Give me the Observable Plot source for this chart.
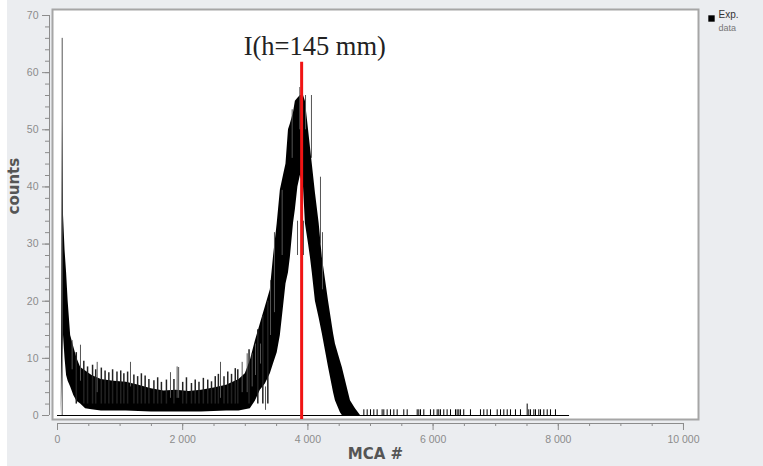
<!DOCTYPE html>
<html><head><meta charset="utf-8">
<script src="https://cdn.jsdelivr.net/npm/d3@7"></script>
<script src="https://cdn.jsdelivr.net/npm/@observablehq/plot@0.6"></script>
<style>
html,body{margin:0;padding:0;background:#fff;}
#chart{width:763px;height:466px;background:linear-gradient(to right,#ffffff 0,#ffffff 7px,#ebedf0 7px,#ebedf0 100%);overflow:hidden;}
#chart svg{display:block;}
</style></head><body><div id="chart"></div>
<script>
// Spectrum envelope: MCA channel, lower and upper edge of the noisy trace (counts)
const channel   = [0, 55, 60, 80, 96, 120, 145, 170, 210, 260, 310, 370, 450, 550, 700, 900, 1100, 1300, 1500, 1700, 1900, 2100, 2300, 2500, 2700, 2900, 3000, 3080, 3160, 3240, 3320, 3400, 3450, 3510, 3560, 3610, 3650, 3690, 3720, 3770, 3800, 3840, 3880, 3930, 3960, 4010, 4040, 4070, 4120, 4180, 4230, 4330, 4410, 4440, 4520, 4550, 4680, 4760, 4840];
const countLow  = [0, 0, 0, 10, 14, 10, 7, 6, 5, 3.5, 2.5, 2, 1.2, 1, 0.8, 0.8, 0.8, 0.7, 0.6, 0.6, 0.6, 0.6, 0.6, 0.7, 0.8, 0.8, 1, 1.2, 2.5, 4.4, 5.5, 7.3, 9, 11, 14, 19, 23, 25, 27.7, 33.6, 36, 40, 42, 40, 33.6, 30, 27.7, 25, 20, 17, 14.3, 8.4, 4, 2.6, 0.5, 0, 0, 0, 0];
const countHigh = [0, 0, 0, 52, 35, 29, 25, 20, 14, 12, 10, 8.4, 7.8, 7, 6.3, 6, 5.8, 5.3, 4.7, 4.3, 4.4, 4.2, 4.4, 4.8, 5.3, 6.3, 7.3, 9.6, 13, 16, 19, 22, 27.7, 33.6, 39.4, 42, 44, 50, 51, 53, 55, 55.5, 56, 56, 55, 50, 47, 44, 39, 33.6, 27.7, 20, 14.3, 12.5, 9.5, 8.4, 2.6, 1.2, 0];

// Isolated thin spikes of the trace (channel, from, to)
const spikeChannel = [75, 234, 367, 634, 1166, 1805, 1911, 1935, 2604, 2950, 3030, 3110, 3163, 3243, 3323, 3403, 3466, 3589, 3749, 3834, 3871, 3930, 3962, 4057, 4201, 4233];
const spikeLow     = [0, 8, 6, 4, 5, 3, 3, 3, 3, 4, 4, 5, 7, 9, 0.9, 14, 18, 28, 45, 28, 50, 28, 50, 45, 30, 22];
const spikeHigh    = [66, 13.1, 12.3, 9.3, 9.3, 7.5, 8.5, 8.4, 9.3, 9.3, 10.8, 10.8, 12.5, 12.5, 5, 23.6, 32, 39.4, 53.5, 34, 57.4, 34, 56, 56, 41.7, 32];

// Short noise peaks poking above the dense band (channel, top count)
const noiseChannel = [300, 420, 480, 560, 610, 700, 760, 820, 880, 950, 1010, 1060, 1120, 1220, 1280, 1340, 1400, 1460, 1540, 1600, 1660, 1740, 1860, 2000, 2060, 2140, 2200, 2260, 2330, 2400, 2460, 2520, 2570, 2660, 2720, 2780, 2840, 2880, 3060, 3200, 3280, 3360];
const noiseTop     = [11, 9.5, 8.5, 8.8, 8, 8.3, 7.8, 7.5, 8, 7.6, 7.8, 7.3, 7.6, 7.1, 6.8, 7.3, 6.9, 6.3, 6.1, 6.6, 5.8, 6.2, 6.3, 5.8, 6.6, 5.6, 6.2, 5.8, 6.5, 6.2, 5.9, 6.8, 7.2, 6.8, 7.6, 7.2, 8.2, 8, 11.5, 15, 17.5, 20];

// Sparse single counts in the high-channel tail
const tailChannel = [4894, 4947, 5000, 5053, 5106, 5186, 5213, 5266, 5319, 5373, 5426, 5532, 5586, 5746, 5772, 5799, 5852, 5958, 6011, 6065, 6091, 6118, 6171, 6224, 6278, 6358, 6384, 6411, 6437, 6490, 6597, 6757, 6810, 6863, 6917, 7024, 7077, 7130, 7184, 7236, 7316, 7396, 7503, 7529, 7556, 7610, 7636, 7689, 7716, 7769, 7823, 7875, 7955];
const tailCount   = [1, 1, 1, 1, 1, 1, 1, 1, 1, 1, 1, 1, 1, 1, 1, 1, 1, 1, 1, 1, 1, 1, 1, 1, 1, 1, 1, 1, 1, 1, 1, 1, 1, 1, 1, 1, 1, 1, 1, 1, 1, 1, 2, 1, 1, 1, 1, 1, 1, 1, 1, 1, 1];
const traceRange = [0, 8180];

// Marker
const peakChannel = 3900;
const peakMarkerTop = 61.8;
const peakLabel = "I(h=145 mm)";

// Axes
const xDomain = [-80, 10240];
const yDomain = [-0.7, 71.05];
const xMajor = [0, 2000, 4000, 6000, 8000, 10000];
const xTickLabels = ["0", "2 000", "4 000", "6 000", "8 000", "10 000"];
const xMinor = d3.range(0, 10001, 500);
const yMajor = [0, 10, 20, 30, 40, 50, 60, 70];
const yTickLabels = ["0", "10", "20", "30", "40", "50", "60", "70"];
const yMinor = d3.range(0, 71, 2);
const xTitle = "MCA #";
const yTitle = "counts";
const legendLines = ["Exp.", "data"];

const envelope = channel.map((c, i) => ({ch: c, lo: countLow[i], hi: countHigh[i]}));
const spikes = spikeChannel.map((c, i) => ({ch: c, lo: spikeLow[i], hi: spikeHigh[i]}));
const noise = noiseChannel.map((c, i) => ({ch: c, lo: 2, hi: noiseTop[i]}));
const tail = tailChannel.map((c, i) => ({ch: c, lo: 0, hi: tailCount[i]}));

const chart = Plot.plot({
  width: 763, height: 466,
  marginLeft: 52, marginRight: 65, marginTop: 9, marginBottom: 47,
  x: {domain: xDomain},
  y: {domain: yDomain},
  style: {background: "transparent", color: "#8c8c8c", fontFamily: "'Liberation Sans', sans-serif", fontSize: "10.5px", overflow: "visible"},
  marks: [
    Plot.frame({fill: "white", stroke: "#a6a6a6", strokeWidth: 2}),
    // axes
    Plot.axisY(yMinor, {anchor: "left", tickSize: 4, dx: -3, fill: "none", label: null}),
    Plot.axisY(yMajor, {anchor: "left", tickSize: 7, dx: -3, tickPadding: 4, label: null,
      tickFormat: d => yTickLabels[yMajor.indexOf(d)]}),
    Plot.ruleX([{x: xDomain[0], y1: yMajor[0], y2: yMajor[yMajor.length - 1]}], {x: "x", y1: "y1", y2: "y2", dx: -3, stroke: "#8c8c8c"}),
    Plot.axisX(xMinor, {anchor: "bottom", tickSize: 3, dy: 4, fill: "none", label: null}),
    Plot.axisX(xMajor, {anchor: "bottom", tickSize: 7, dy: 4, tickPadding: 5, label: null,
      tickFormat: d => xTickLabels[xMajor.indexOf(d)]}),
    Plot.ruleY([{y: yDomain[0], x1: xMajor[0], x2: xMajor[xMajor.length - 1]}], {y: "y", x1: "x1", x2: "x2", dy: 4, stroke: "#8c8c8c"}),
    // data
    Plot.ruleY([{y: 0, x1: traceRange[0], x2: traceRange[1]}], {y: "y", x1: "x1", x2: "x2", stroke: "black", strokeWidth: 1}),
    Plot.areaY(envelope, {x: "ch", y1: "lo", y2: "hi", fill: "black", curve: "linear"}),
    Plot.ruleX(noise, {x: "ch", y1: "lo", y2: "hi", stroke: "#222", strokeWidth: 1.5}),
    Plot.ruleX(spikes, {x: "ch", y1: "lo", y2: "hi", stroke: "#555", strokeWidth: 1}),
    Plot.ruleX(tail, {x: "ch", y1: "lo", y2: "hi", stroke: "black", strokeWidth: 1}),
    // marker
    Plot.ruleX([{x: peakChannel, y1: yDomain[0], y2: peakMarkerTop}], {x: "x", y1: "y1", y2: "y2", stroke: "#f01414", strokeWidth: 3}),
    Plot.text([{x: peakChannel, y: peakMarkerTop, t: peakLabel}], {x: "x", y: "y", text: "t", textAnchor: "start", lineAnchor: "bottom",
      dx: -58, dy: -7, fontFamily: "'Liberation Serif', serif", fontSize: 26.5, fill: "#222"}),
    // titles
    Plot.text([yTitle], {frameAnchor: "left", rotate: -90, dx: -38, fontFamily: "'DejaVu Sans', sans-serif", fontWeight: "bold", fontSize: 15, fill: "#555"}),
    Plot.text([xTitle], {frameAnchor: "bottom", dy: 39, fontFamily: "'DejaVu Sans', sans-serif", fontWeight: "bold", fontSize: 15, fill: "#555"}),
    // legend
    Plot.dot([legendLines[0]], {frameAnchor: "top-right", symbol: "square", r: 3.6, fill: "black", stroke: "none", dx: 13, dy: 9}),
    Plot.text([legendLines[0]], {frameAnchor: "top-right", textAnchor: "start", dx: 20, dy: 1, fontSize: 10, fill: "#333"}),
    Plot.text([legendLines[1]], {frameAnchor: "top-right", textAnchor: "start", dx: 20, dy: 15, fontSize: 9, fill: "#777"})
  ]
});
document.getElementById("chart").appendChild(chart);
</script>
</body></html>
